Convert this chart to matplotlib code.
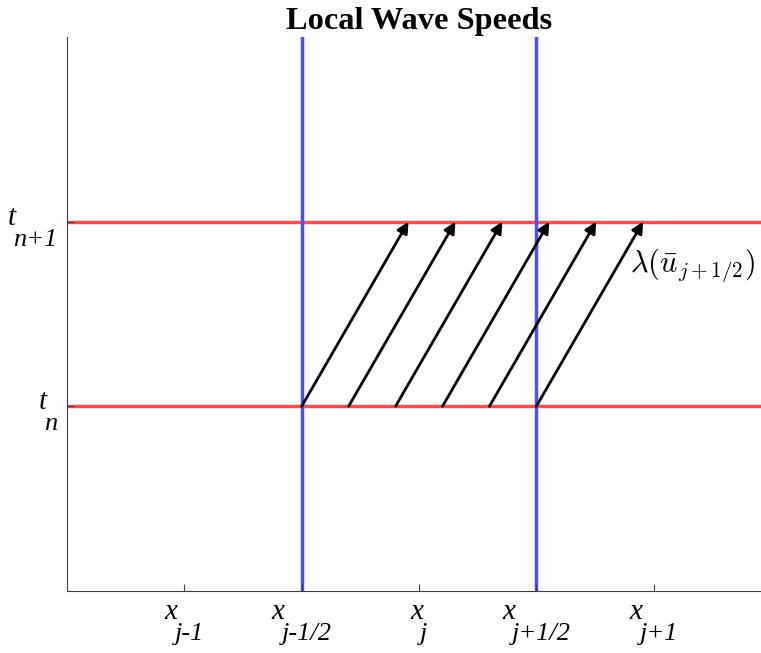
import numpy as np
import matplotlib.pyplot as plt
from matplotlib.transforms import IdentityTransform

# ---- data ----
x_ticks = [-1.0, -0.5, 0.0, 0.5, 1.0]
x_subs = ['j-1', 'j-1/2', 'j', 'j+1/2', 'j+1']
t_levels = [1.0, 2.0]
t_subs = ['n', 'n+1']
interfaces = [-0.5, 0.5]
arrow_start = [-0.5, -0.3, -0.1, 0.1, 0.3, 0.5]
arrow_shift = 0.455   # lambda * dt

fig = plt.figure(figsize=(7.61, 6.53), dpi=100)
ax = fig.add_axes([67/761, 1-591/653, (771-67)/761, (591-37)/653])

for t in t_levels:
    ax.axhline(t, color=(1, 0.3, 0.3), lw=2.5, zorder=1)
for xi in interfaces:
    ax.axvline(xi, color=(0.3, 0.3, 1), lw=2.5, zorder=1)

for x0 in arrow_start:
    ax.annotate('', xy=(x0+arrow_shift, t_levels[1]), xytext=(x0, t_levels[0]),
                arrowprops=dict(arrowstyle='-|>', color='black', lw=2,
                                mutation_scale=17, shrinkA=0, shrinkB=0), zorder=3)

ax.text(0.90, 1.73, r'$\lambda(\bar{u}_{j+1/2})$', math_fontfamily='cm',
        fontsize=21.8, va='baseline', ha='left')

ax.set_xlim(-1.5, 1.5)
ax.set_ylim(0, 3)
ax.set_xticks(x_ticks)
ax.set_xticklabels([])
ax.set_yticks(t_levels)
ax.set_yticklabels([])
ax.tick_params(direction='in', length=5, width=0.8, color='#404040')
ax.spines['top'].set_visible(False)
ax.spines['right'].set_visible(False)
for s in ['left', 'bottom']:
    ax.spines[s].set_color('#404040')
    ax.spines[s].set_linewidth(0.8)

ax.set_title('Local Wave Speeds', fontsize=23.3, fontweight='bold',
             fontfamily='Liberation Serif', pad=6)

# MATLAB-style tex labels: big italic letter, lowered italic subscript
fig.canvas.draw()
r = fig.canvas.get_renderer()
font = dict(family='Liberation Serif', style='italic', va='baseline', ha='left',
            transform=IdentityTransform())

def sub_label(main, sub, anchor_x, base_y, mode):
    t1 = fig.text(0, 0, main, fontsize=21, **font)
    t2 = fig.text(0, 0, sub, fontsize=19, **font)
    w1 = t1.get_window_extent(r).width
    w2 = t2.get_window_extent(r).width
    total = w1 + w2 - 3
    left = anchor_x - total/2 if mode == 'center' else anchor_x - total
    t1.set_position((left, base_y))
    t2.set_position((left + w1 - 3, base_y - 21))

x0_px, y0_px = ax.transAxes.transform((0, 0))
for xt, s in zip(x_ticks, x_subs):
    px = ax.transData.transform((xt, 0))[0]
    sub_label('x', s, px, y0_px - 28, 'center')
for tt, s in zip(t_levels, t_subs):
    py = ax.transData.transform((0, tt))[1]
    sub_label('t', s, x0_px - 10, py - 3, 'right')

fig.savefig('out.png', dpi=100)
